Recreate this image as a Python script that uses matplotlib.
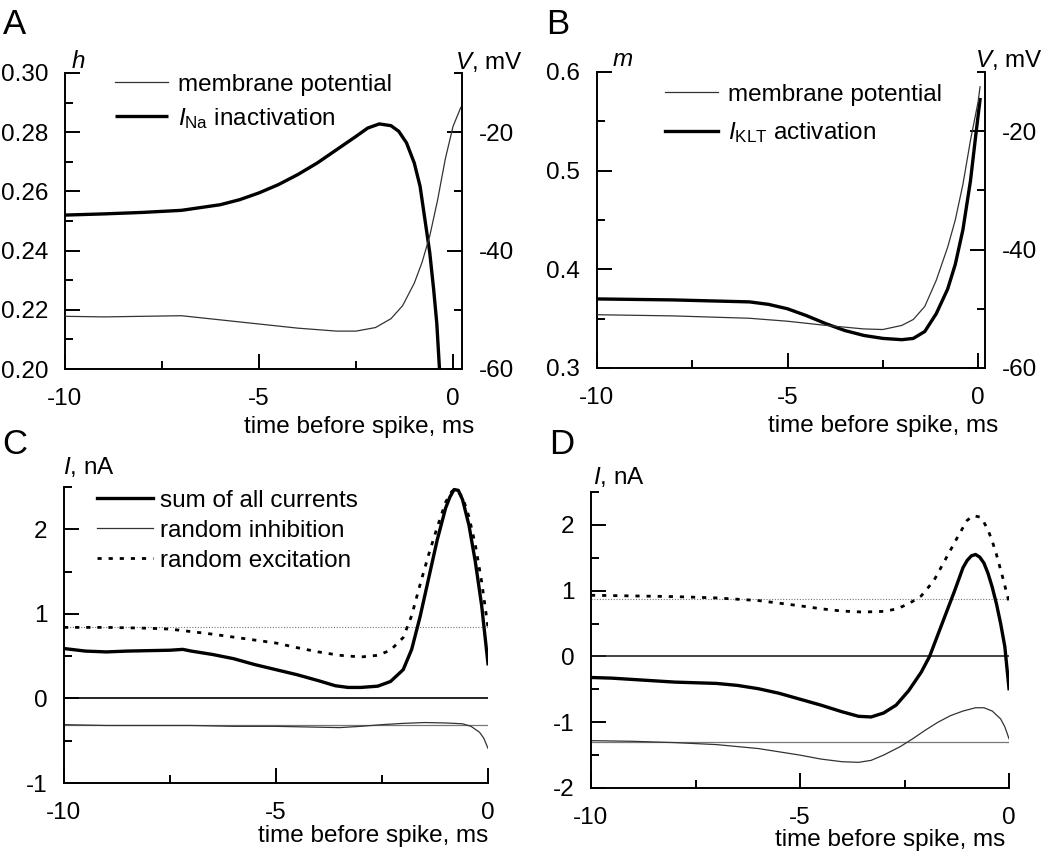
import matplotlib
matplotlib.use('Agg')
import matplotlib.pyplot as plt
from matplotlib.ticker import MultipleLocator, FormatStrFormatter

plt.rcParams['font.family'] = ['Liberation Sans', 'DejaVu Sans']
plt.rcParams['mathtext.fontset'] = 'custom'
plt.rcParams['mathtext.rm'] = 'Liberation Sans'
plt.rcParams['mathtext.it'] = 'Liberation Sans:italic'
plt.rcParams['axes.unicode_minus'] = False

# ---- Panel A: I_Na inactivation (h) and membrane potential (V)
a_t_h = [-10, -9, -8, -7, -6, -5.5, -5, -4.5, -4, -3.5, -3, -2.5, -2.2, -1.9,
         -1.6, -1.4, -1.2, -1.0, -0.85, -0.7, -0.6, -0.5, -0.42, -0.35]
a_h = [0.252, 0.2524, 0.2529, 0.2536, 0.2555, 0.2572, 0.2595, 0.2623, 0.2657,
       0.2696, 0.2741, 0.2786, 0.2814, 0.2828, 0.2822, 0.2803, 0.2764, 0.2696,
       0.2617, 0.2482, 0.2392, 0.2268, 0.2155, 0.200]
a_t_v = [-10, -9, -8, -7, -6, -5, -4, -3, -2.5, -2, -1.6, -1.3, -1.0, -0.8,
         -0.6, -0.4, -0.2, 0, 0.2]
a_v = [-51.1, -51.2, -51.1, -51.0, -51.7, -52.4, -53.1, -53.6, -53.6, -53.0,
       -51.5, -49.3, -45.5, -42.0, -37.5, -31.5, -24.5, -19.0, -15.8]

# ---- Panel B: I_KLT activation (m) and membrane potential (V)
b_t_m = [-10, -9, -8, -7, -6, -5.5, -5, -4.5, -4, -3.5, -3, -2.5, -2.0, -1.7,
         -1.4, -1.1, -0.8, -0.6, -0.4, -0.2, -0.05, 0.05]
b_m = [0.370, 0.3695, 0.369, 0.368, 0.367, 0.3645, 0.360, 0.353, 0.345, 0.338,
       0.333, 0.330, 0.3287, 0.330, 0.337, 0.355, 0.380, 0.405, 0.440, 0.490,
       0.540, 0.572]
b_t_v = [-10, -8, -6, -5, -4, -3, -2.5, -2, -1.7, -1.4, -1.1, -0.8, -0.6, -0.4,
         -0.2, 0, 0.05]
b_v = [-51.0, -51.2, -51.6, -52.1, -52.8, -53.4, -53.5, -52.8, -51.8, -49.6,
       -45.2, -39.6, -35.0, -29.0, -21.5, -15.0, -12.5]

# ---- Panel C: currents
c_t_sum = [-10, -9.5, -9, -8.5, -8, -7.5, -7.2, -7, -6.5, -6, -5.5, -5, -4.5,
           -4, -3.6, -3.3, -3.0, -2.6, -2.3, -2.0, -1.8, -1.6, -1.4, -1.2, -1.0,
           -0.9, -0.8, -0.7, -0.6, -0.45, -0.3, -0.15, 0]
c_sum = [0.59, 0.56, 0.55, 0.56, 0.565, 0.57, 0.58, 0.56, 0.52, 0.47, 0.40,
         0.34, 0.28, 0.21, 0.15, 0.13, 0.13, 0.145, 0.20, 0.34, 0.58, 0.97,
         1.42, 1.87, 2.25, 2.38, 2.47, 2.46, 2.35, 2.05, 1.62, 1.10, 0.41]
c_t_exc = [-10, -9, -8, -7.5, -7, -6.5, -6, -5.5, -5, -4.5, -4, -3.5, -3, -2.6,
           -2.3, -2.0, -1.8, -1.6, -1.4, -1.2, -1.0, -0.85, -0.75, -0.6, -0.45,
           -0.3, -0.15, 0]
c_exc = [0.84, 0.84, 0.83, 0.82, 0.79, 0.76, 0.725, 0.69, 0.655, 0.60, 0.55,
         0.51, 0.49, 0.51, 0.57, 0.72, 0.98, 1.35, 1.70, 2.02, 2.32, 2.45, 2.47,
         2.38, 2.15, 1.82, 1.38, 0.84]
c_t_inh = [-10, -9, -8, -7, -6, -5, -4, -3.5, -3, -2.5, -2, -1.5, -1, -0.6,
           -0.4, -0.2, -0.1, 0]
c_inh = [-0.31, -0.32, -0.32, -0.32, -0.33, -0.33, -0.34, -0.345, -0.33, -0.31,
         -0.295, -0.285, -0.29, -0.30, -0.33, -0.40, -0.47, -0.59]
c_exc_mean = 0.85
c_inh_mean = -0.32

# ---- Panel D: currents
d_t_sum = [-10, -9.5, -9, -8.5, -8, -7.5, -7, -6.5, -6, -5.5, -5, -4.5, -4,
           -3.6, -3.3, -3.0, -2.7, -2.4, -2.1, -1.9, -1.6, -1.3, -1.1, -1.0,
           -0.9, -0.8, -0.7, -0.6, -0.5, -0.4, -0.3, -0.2, -0.1, 0]
d_sum = [-0.32, -0.33, -0.35, -0.37, -0.39, -0.40, -0.41, -0.44, -0.49, -0.56,
         -0.65, -0.74, -0.84, -0.91, -0.92, -0.86, -0.74, -0.52, -0.24, 0.0,
         0.50, 1.0, 1.35, 1.46, 1.53, 1.55, 1.51, 1.42, 1.26, 1.05, 0.80, 0.50,
         0.15, -0.49]
d_t_exc = [-10, -9, -8, -7, -6.5, -6, -5.5, -5, -4.5, -4, -3.5, -3, -2.7, -2.4,
           -2.1, -1.8, -1.5, -1.2, -1.0, -0.85, -0.7, -0.6, -0.5, -0.4, -0.3,
           -0.15, 0]
d_exc = [0.93, 0.92, 0.91, 0.89, 0.87, 0.85, 0.81, 0.77, 0.725, 0.69, 0.675,
         0.685, 0.72, 0.80, 0.92, 1.15, 1.50, 1.85, 2.07, 2.14, 2.12, 2.04, 1.92,
         1.75, 1.55, 1.20, 0.83]
d_t_inh = [-10, -9, -8, -7, -6, -5, -4.5, -4, -3.6, -3.3, -3.0, -2.6, -2.3,
           -2.0, -1.7, -1.4, -1.1, -0.8, -0.6, -0.4, -0.2, -0.1, 0]
d_inh = [-1.28, -1.29, -1.31, -1.34, -1.40, -1.50, -1.56, -1.60, -1.61, -1.58,
         -1.50, -1.37, -1.25, -1.12, -1.00, -0.90, -0.83, -0.78, -0.78, -0.83,
         -0.95, -1.07, -1.25]
d_exc_mean = 0.88
d_inh_mean = -1.30

W, H = 1050, 852
FS = 17.5
THICK = 2.4
THIN = 0.9
THIN_C = '#333333'
DOTS = (0, (1.5, 2.5))

fig = plt.figure(figsize=(W / 100, H / 100), dpi=100)


def px_axes(left, top, right, bottom):
    return fig.add_axes([left / W, 1 - bottom / H, (right - left) / W, (bottom - top) / H])


def ftext(x, y, s, **kw):
    fig.text(x / W, 1 - y / H, s, fontsize=FS, **kw)


def style_axes(ax, ymajor, yminor, fmt=None):
    ax.spines['top'].set_visible(False)
    ax.spines['right'].set_visible(False)
    for s in ax.spines.values():
        s.set_linewidth(1.4)
    ax.xaxis.set_major_locator(MultipleLocator(5))
    ax.xaxis.set_minor_locator(MultipleLocator(2.5))
    ax.yaxis.set_major_locator(MultipleLocator(ymajor))
    ax.yaxis.set_minor_locator(MultipleLocator(yminor))
    if fmt:
        ax.yaxis.set_major_formatter(FormatStrFormatter(fmt))
    ax.tick_params(which='both', direction='in', width=1.4, labelsize=FS,
                   pad=12, top=False, right=False)
    ax.tick_params(axis='x', which='both', pad=14)
    ax.tick_params(which='major', length=11)
    ax.tick_params(which='minor', length=5.5)


def style_twin(ax2):
    for k in ['top', 'left', 'bottom']:
        ax2.spines[k].set_visible(False)
    ax2.spines['right'].set_linewidth(1.4)
    ax2.set_ylim(-60, -10)
    ax2.yaxis.set_major_locator(MultipleLocator(20))
    ax2.yaxis.set_minor_locator(MultipleLocator(10))
    ax2.tick_params(which='both', direction='in', width=1.4, labelsize=FS, pad=12)
    ax2.tick_params(which='major', length=11)
    ax2.tick_params(which='minor', length=5.5)


def xlabel(ax, x, y):
    ax.text(x, y, 'time before spike, ms', transform=ax.transAxes,
            ha='right', va='baseline', fontsize=FS)


# ---------------- A
axA = px_axes(65, 73, 462, 369)
style_axes(axA, 0.02, 0.01, '%.2f')
axA.set_xlim(-10, 0.23)
axA.set_ylim(0.20, 0.30)
lA1, = axA.plot(a_t_h, a_h, color='k', lw=THICK, solid_capstyle='butt')
axA2 = axA.twinx()
style_twin(axA2)
lA2, = axA2.plot(a_t_v, a_v, color=THIN_C, lw=THIN)
axA2.legend([lA2, lA1], ['membrane potential', r'$I_{\mathrm{Na}}$ inactivation'],
            loc='upper left', bbox_to_anchor=(0.126, 0.997), frameon=False,
            fontsize=FS, handlelength=2.2, handletextpad=0.4, labelspacing=0.4,
            borderpad=0, borderaxespad=0)
xlabel(axA, 1.03, -0.215)

# ---------------- B
axB = px_axes(597, 72, 985, 368)
style_axes(axB, 0.1, 0.05, '%.1f')
axB.set_xlim(-10, 0.18)
axB.set_ylim(0.3, 0.6)
lB1, = axB.plot(b_t_m, b_m, color='k', lw=THICK)
axB2 = axB.twinx()
style_twin(axB2)
lB2, = axB2.plot(b_t_v, b_v, color=THIN_C, lw=THIN)
axB2.legend([lB2, lB1], ['membrane potential', r'$I_{\mathrm{KLT}}$ activation'],
            loc='upper left', bbox_to_anchor=(0.175, 0.96), frameon=False,
            fontsize=FS, handlelength=2.2, handletextpad=0.4, labelspacing=0.6,
            borderpad=0, borderaxespad=0)
xlabel(axB, 1.035, -0.215)

# ---------------- C
axC = px_axes(64, 487, 488, 783)
style_axes(axC, 1, 0.5, '%g')
axC.set_xlim(-10, 0)
axC.set_ylim(-1, 2.5)
axC.axhline(0, color='k', lw=1.2)
axC.axhline(c_exc_mean, color='#777777', lw=0.8, linestyle=(0, (1, 1.5)))
axC.axhline(c_inh_mean, color='#777777', lw=0.9)
lC3, = axC.plot(c_t_exc, c_exc, color='k', lw=2.0, linestyle=DOTS)
lC2, = axC.plot(c_t_inh, c_inh, color=THIN_C, lw=THIN)
lC1, = axC.plot(c_t_sum, c_sum, color='k', lw=THICK)
axC.legend([lC1, lC2, lC3], ['sum of all currents', 'random inhibition', 'random excitation'],
           loc='upper left', bbox_to_anchor=(0.078, 0.99), frameon=False,
           fontsize=FS, handlelength=2.3, handletextpad=0.3, labelspacing=0.32,
           borderpad=0, borderaxespad=0)
xlabel(axC, 1.0, -0.2)

# ---------------- D
axD = px_axes(591, 492, 1009, 788)
style_axes(axD, 1, 0.5, '%g')
axD.set_xlim(-10, 0)
axD.set_ylim(-2, 2.5)
axD.axhline(0, color='#222222', lw=1.2)
axD.axhline(d_exc_mean, color='#777777', lw=0.8, linestyle=(0, (1, 1.5)))
axD.axhline(d_inh_mean, color='#777777', lw=0.9)
axD.plot(d_t_exc, d_exc, color='k', lw=2.0, linestyle=DOTS)
axD.plot(d_t_inh, d_inh, color=THIN_C, lw=THIN)
axD.plot(d_t_sum, d_sum, color='k', lw=THICK)
xlabel(axD, 0.99, -0.195)

# axis titles
ftext(78, 62, 'h', style='italic', ha='center', va='center')
ftext(455, 62, r'$V$, mV', ha='left', va='center')
ftext(623, 60, 'm', style='italic', ha='center', va='center')
ftext(975, 60, r'$V$, mV', ha='left', va='center')
ftext(63, 467, r'$I$, nA', ha='left', va='center')
ftext(593, 477, r'$I$, nA', ha='left', va='center')

# panel letters
for lx, ly, letter in [(3, 8, 'A'), (546, 8, 'B'), (2, 428, 'C'), (549, 428, 'D')]:
    fig.text(lx / W, 1 - ly / H, letter, fontsize=25, ha='left', va='top')

fig.savefig('out.png', dpi=100)
